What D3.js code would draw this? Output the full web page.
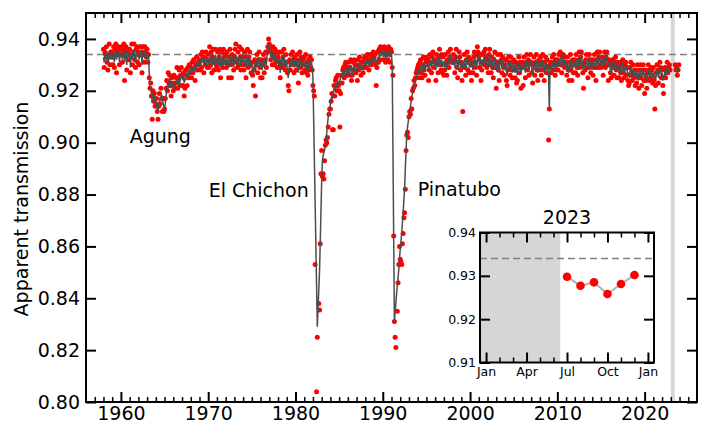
<!DOCTYPE html>
<html><head><meta charset="utf-8">
<script src="https://cdn.jsdelivr.net/npm/d3@7"></script>
<style>body{margin:0;background:#fff}svg{display:block;font-family:"DejaVu Sans",sans-serif}</style>
</head><body><svg id="c" width="708" height="424"></svg>
<script>
// ---- data ----
const firstYear = 1958; // monthly series, first value = Jan 1958
const monthlyTransmission = [
.936,.929,.935,.934,.937,.931,.928,.934,.938,.930,.935,.933,
.935,.930,.937,.929,.936,.938,.927,.935,.934,.937,.930,.936,
.934,.937,.931,.935,.938,.924,.936,.937,.928,.935,.932,.936,
.936,.927,.934,.938,.930,.935,.938,.932,.929,.936,.937,.931,
.935,.930,.937,.934,.937,.927,.935,.937,.931,.937,.935,.933,
.936,.931,.934,.925,.921,.923,.918,.909,.920,.916,.919,.914,
.915,.917,.912,.909,.914,.919,.915,.921,.917,.912,.917,.912,
.913,.917,.921,.924,.920,.927,.923,.926,.922,.918,.925,.923,
.920,.926,.921,.923,.925,.929,.921,.925,.928,.922,.926,.929,
.926,.922,.927,.918,.921,.928,.926,.922,.929,.925,.930,.927,
.929,.925,.931,.927,.932,.929,.924,.930,.933,.928,.931,.930,
.932,.928,.934,.929,.935,.932,.927,.933,.930,.935,.932,.929,
.934,.929,.937,.930,.935,.927,.933,.936,.928,.931,.936,.930,
.929,.935,.928,.933,.936,.925,.930,.935,.929,.936,.933,.931,
.934,.929,.935,.930,.925,.933,.936,.930,.925,.934,.932,.928,
.933,.936,.938,.931,.929,.935,.930,.937,.933,.928,.936,.930,
.933,.928,.935,.930,.925,.933,.936,.929,.933,.935,.930,.927,
.931,.926,.922,.928,.932,.918,.931,.934,.927,.932,.935,.929,
.925,.932,.925,.931,.934,.927,.932,.935,.929,.935,.937,.940,
.938,.936,.932,.935,.930,.937,.934,.930,.936,.931,.935,.929,
.933,.929,.935,.925,.930,.935,.929,.933,.936,.930,.928,.934,
.931,.927,.922,.920,.932,.928,.934,.931,.935,.930,.927,.933,
.932,.928,.934,.930,.923,.932,.935,.929,.933,.927,.932,.930,
.933,.928,.934,.927,.931,.926,.932,.928,.933,.929,.932,.928,
.922,.920,.918,.853,null,.804,.825,null,.838,.8355,.861,.888,
.897,.887,.888,.886,.893,.899,.901,.900,.902,.906,.911,.913,
.913,.916,.919,.905,.905,.922,.918,.924,.925,.920,.926,.922,
.920,.906,.919,.926,.923,.928,.929,.925,.930,.931,.926,.928,
.929,.931,.926,.929,.932,.924,.926,.931,.928,.932,.930,.927,
.930,.924,.932,.928,.933,.930,.926,.931,.929,.927,.932,.933,
.929,.933,.929,.934,.932,.928,.932,.934,.930,.933,.931,.935,
.933,.934,.930,.922,.929,.935,.931,.936,.932,.937,.935,.936,
.936,.932,.937,.935,.931,.936,.935,.932,.937,.936,.931,.936,
.935,.929,.926,.864,.831,.825,.821,null,.835,.846,.853,.860,
.855,.854,.853,.861,.865,.871,.873,.882,.897,.903,.904,.902,
.910,.912,.911,.917,.913,.920,.921,.924,.922,.925,.927,.928,
.929,.930,.925,.931,.932,.927,.925,.930,.933,.928,.926,.932,
.931,.933,.932,.924,.928,.934,.931,.927,.933,.935,.929,.931,
.932,.924,.934,.932,.927,.933,.936,.930,.928,.934,.927,.933,
.926,.928,.934,.931,.926,.932,.935,.929,.933,.936,.931,.932,
.931,.934,.932,.927,.933,.936,.929,.925,.931,.935,.933,.928,
.931,.924,.912,.930,.934,.929,.926,.932,.935,.928,.933,.927,
.932,.927,.924,.931,.927,.933,.935,.929,.934,.926,.937,.935,
.933,.929,.934,.924,.928,.934,.931,.935,.930,.936,.933,.929,
.932,.927,.934,.936,.930,.927,.933,.929,.925,.932,.935,.929,
.921,.931,.934,.928,.924,.931,.934,.932,.927,.933,.929,.926,
.930,.932,.924,.922,.928,.933,.931,.926,.933,.928,.925,.931,
.932,.928,.925,.931,.923,.924,.930,.933,.927,.931,.921,.930,
.931,.922,.933,.930,.925,.931,.934,.928,.932,.926,.931,.934,
.931,.927,.923,.930,.933,.926,.931,.934,.928,.924,.931,.932,
.928,.933,.926,.931,.934,.928,.924,.931,.933,.927,.932,.929,
.901,.913,.930,.931,.927,.933,.928,.934,.931,.926,.932,.928,
.932,.928,.934,.931,.935,.930,.927,.933,.934,.930,.929,.933,
.931,.926,.933,.928,.924,.931,.934,.928,.924,.932,.927,.931,
.932,.927,.934,.929,.926,.932,.935,.929,.933,.935,.930,.927,
.921,.931,.928,.932,.934,.929,.925,.932,.934,.929,.927,.932,
.931,.926,.932,.934,.929,.924,.932,.935,.929,.933,.935,.930,
.929,.933,.930,.926,.932,.935,.929,.933,.935,.930,.924,.932,
.931,.927,.925,.930,.932,.929,.926,.931,.933,.928,.925,.931,
.930,.925,.931,.927,.924,.930,.932,.927,.925,.930,.931,.926,
.929,.924,.922,.923,.929,.931,.926,.924,.930,.925,.928,.922,
.928,.923,.930,.925,.921,.928,.930,.925,.922,.928,.930,.924,
.919,.928,.924,.921,.927,.930,.928,.924,.925,.929,.928,.923,
.929,.924,.913,.922,.927,.930,.928,.923,.928,.931,.929,.925,
.928,.922,.919,.925,.929,.925,.928,.931,.927,.929,.930,.928,
null,null,null,null,null,null,.930,.928,.929,.926,.928,.930
];
const smoothedTransmission = [
.933,.931,.934,.932,.935,.933,.930,.933,.935,.932,.934,.933,
.934,.932,.935,.931,.934,.936,.932,.934,.933,.935,.931,.934,
.933,.935,.932,.934,.936,.931,.934,.935,.930,.934,.933,.935,
.934,.929,.933,.935,.932,.934,.936,.933,.931,.934,.935,.933,
.934,.932,.935,.933,.936,.930,.934,.935,.933,.936,.934,.932,
.934,.933,.934,.926,.921,.921,.919,.916,.919,.917,.918,.915,
.916,.915,.913,.912,.914,.916,.917,.917,.9185,.917,.915,.914,
.9133,.915,.918,.920,.922,.923,.921,.9249,.923,.921,.923,.922,
.923,.921,.922,.9217,.924,.923,.925,.922,.924,.923,.925,.926,
.9255,.924,.926,.923,.925,.924,.927,.925,.926,.928,.926,.927,
.928,.927,.928,.929,.927,.929,.930,.928,.930,.931,.929,.9313,
.930,.932,.930,.9332,.931,.932,.930,.933,.931,.932,.930,.933,
.932,.930,.933,.931,.934,.929,.932,.933,.930,.932,.934,.931,
.931,.933,.930,.932,.934,.929,.931,.933,.930,.934,.932,.930,
.932,.930,.933,.931,.929,.932,.934,.931,.930,.933,.931,.929,
.931,.933,.934,.932,.930,.933,.931,.934,.932,.930,.933,.931,
.932,.930,.933,.931,.929,.932,.934,.930,.932,.933,.931,.929,
.930,.928,.926,.929,.931,.928,.930,.932,.929,.931,.933,.930,
.929,.931,.928,.930,.932,.929,.931,.933,.930,.934,.936,.938,
.937,.935,.933,.934,.932,.935,.933,.931,.934,.932,.933,.931,
.932,.930,.933,.927,.931,.933,.930,.932,.934,.931,.929,.932,
.930,.928,.925,.928,.931,.929,.932,.930,.933,.931,.929,.932,
.931,.929,.932,.930,.927,.931,.933,.930,.932,.929,.931,.930,
.931,.929,.932,.928,.930,.927,.931,.929,.932,.930,.931,.929,
.925,.909,.893,.877,.861,.845,.829,.836,.843,.850,.861,.873,
.885,.893,.895,.896,.897,.899,.901,.904,.907,.910,.911,.913,
.915,.917,.918,.917,.919,.921,.920,.922,.923,.921,.924,.923,
.922,.924,.925,.926,.925,.927,.928,.926,.928,.929,.927,.926,
.927,.929,.926,.928,.930,.928,.926,.929,.928,.930,.928,.927,
.929,.928,.930,.929,.931,.929,.928,.930,.929,.928,.930,.931,
.930,.931,.930,.932,.931,.930,.931,.932,.930,.932,.931,.933,
.932,.933,.931,.932,.930,.933,.932,.934,.933,.935,.934,.935,
.934,.933,.935,.934,.932,.935,.934,.933,.935,.934,.933,.935,
.934,.929,.897,.864,.831,.835,.838,.842,.845,.848,.851,.855,
.859,.862,.865,.869,.873,.878,.882,.890,.897,.903,.906,.908,
.910,.912,.914,.916,.918,.919,.920,.922,.923,.924,.925,.926,
.927,.928,.926,.929,.930,.928,.927,.929,.931,.929,.928,.930,
.929,.931,.930,.928,.930,.932,.930,.929,.931,.933,.931,.930,
.930,.928,.932,.931,.929,.932,.934,.931,.930,.932,.929,.931,
.931,.929,.932,.930,.928,.931,.933,.930,.932,.934,.932,.931,
.930,.932,.931,.929,.932,.934,.931,.928,.930,.933,.931,.929,
.930,.928,.931,.929,.932,.930,.928,.931,.933,.930,.932,.929,
.931,.929,.932,.930,.928,.931,.933,.930,.932,.929,.931,.934,
.932,.930,.933,.931,.929,.932,.930,.933,.931,.934,.932,.930,
.931,.929,.932,.934,.931,.929,.932,.930,.928,.931,.933,.930,
.928,.930,.932,.929,.927,.930,.932,.931,.929,.932,.930,.928,
.929,.931,.928,.926,.929,.931,.930,.928,.931,.929,.927,.930,
.931,.929,.927,.930,.928,.926,.929,.931,.928,.930,.927,.929,
.930,.928,.931,.929,.927,.930,.932,.929,.931,.928,.930,.932,
.930,.928,.926,.929,.931,.928,.930,.932,.929,.927,.930,.931,
.929,.931,.928,.930,.932,.929,.927,.930,.931,.928,.930,.930,
.925,.913,.929,.930,.928,.931,.929,.932,.930,.928,.931,.929,
.931,.929,.932,.930,.933,.931,.929,.932,.934,.931,.930,.932,
.930,.928,.931,.929,.927,.930,.932,.929,.928,.931,.929,.930,
.931,.929,.932,.930,.928,.931,.933,.930,.932,.934,.931,.929,
.928,.930,.929,.931,.932,.930,.928,.931,.933,.930,.929,.931,
.930,.928,.931,.932,.930,.929,.931,.933,.930,.932,.934,.931,
.930,.932,.931,.929,.931,.933,.930,.932,.934,.931,.929,.931,
.930,.928,.926,.929,.931,.930,.928,.930,.932,.929,.928,.930,
.929,.927,.930,.928,.926,.929,.931,.928,.927,.929,.930,.928,
.928,.926,.927,.925,.928,.929,.927,.925,.928,.926,.927,.926,
.927,.925,.928,.926,.924,.927,.928,.926,.925,.927,.928,.926,
.925,.927,.925,.924,.926,.928,.927,.925,.926,.928,.927,.925,
.927,.925,.926,.924,.926,.928,.927,.925,.927,.929,.927,.926,
.927,.924,.925,.926,.928,.926,.927,.929,.927,.928,.929,.928,
null,null,null,null,null,null,.929,.928,.928,.927,.928,.929
];
const referenceLevel = 0.934;
const noDataPeriod = [2023.0, 2023.45];
const yTickValues = [0.80, 0.82, 0.84, 0.86, 0.88, 0.90, 0.92, 0.94];
const xTickValues = [1960, 1970, 1980, 1990, 2000, 2010, 2020];
const eruptions = [
  {name: "Agung", year: 1961.0, value: 0.900},
  {name: "El Chichon", year: 1970.05, value: 0.8792},
  {name: "Pinatubo", year: 1994.0, value: 0.8794}
];
const insetTitle = "2023";
const insetMonths = [6, 7, 8, 9, 10, 11];           // Jul..Dec (0 = Jan)
const insetValues = [0.9298, 0.9277, 0.9285, 0.9258, 0.9281, 0.9302];
const insetMonthTicks = [0, 3, 6, 9, 12];
const insetMonthLabels = ["Jan", "Apr", "Jul", "Oct", "Jan"];
const insetYTicks = [0.91, 0.92, 0.93, 0.94];
const insetNoDataEnd = 5.5;

// ---- drawing ----
const svg = d3.select("#c");
const L = 86, R = 697, T = 13, B = 402;
const x = d3.scaleLinear().domain([1956, 2026]).range([L, R]);
const y = d3.scaleLinear().domain([0.80, 0.95]).range([B, T]);
const FS = "19px";

const pts = monthlyTransmission.map((v, i) => ({t: firstYear + i / 12, v}));
const sm = smoothedTransmission.map((v, i) => ({t: firstYear + i / 12, v}));

svg.append("rect").attr("x", x(noDataPeriod[0])).attr("y", T)
  .attr("width", x(noDataPeriod[1]) - x(noDataPeriod[0])).attr("height", B - T)
  .attr("fill", "#d6d6d6");

svg.append("line").attr("x1", L).attr("x2", R).attr("y1", y(referenceLevel)).attr("y2", y(referenceLevel))
  .attr("stroke", "#808080").attr("stroke-width", 1.6).attr("stroke-dasharray", "7,4");

svg.append("g").selectAll("circle").data(pts.filter(d => d.v != null)).join("circle")
  .attr("cx", d => x(d.t)).attr("cy", d => y(d.v)).attr("r", 2.5).attr("fill", "#ff0000");

svg.append("path").datum(sm)
  .attr("d", d3.line().defined(d => d.v != null).x(d => x(d.t)).y(d => y(d.v)))
  .attr("fill", "none").attr("stroke", "#4d4d4d").attr("stroke-width", 1.5);

function styleAxis(g, w, fs) {
  g.select(".domain").remove();
  g.selectAll(".tick line").attr("stroke", "#000").attr("stroke-width", w);
  g.selectAll("text").attr("fill", "#000").style("font-size", fs).style("font-family", '"DejaVu Sans",sans-serif');
}
const minorYears = d3.range(1957, 2026).filter(v => v % 10 !== 0);

svg.append("g").attr("transform", `translate(0,${B})`)
  .call(d3.axisBottom(x).tickValues(minorYears).tickSize(-5).tickFormat(""))
  .call(g => styleAxis(g, 1.5, FS));
svg.append("g").attr("transform", `translate(0,${B})`)
  .call(d3.axisBottom(x).tickValues(xTickValues).tickSize(-10).tickPadding(5).tickFormat(d3.format("d")))
  .call(g => styleAxis(g, 2, FS));
svg.append("g").attr("transform", `translate(0,${T})`)
  .call(d3.axisTop(x).tickValues(minorYears).tickSize(-5).tickFormat(""))
  .call(g => styleAxis(g, 1.5, FS));
svg.append("g").attr("transform", `translate(0,${T})`)
  .call(d3.axisTop(x).tickValues(xTickValues).tickSize(-10).tickFormat(""))
  .call(g => styleAxis(g, 2, FS));
svg.append("g").attr("transform", `translate(${L},0)`)
  .call(d3.axisLeft(y).tickValues(yTickValues).tickSize(-10).tickPadding(6).tickFormat(d3.format(".2f")))
  .call(g => styleAxis(g, 2, FS));
svg.append("g").attr("transform", `translate(${R},0)`)
  .call(d3.axisRight(y).tickValues(yTickValues).tickSize(-10).tickFormat(""))
  .call(g => styleAxis(g, 2, FS));

svg.append("rect").attr("x", L).attr("y", T).attr("width", R - L).attr("height", B - T)
  .attr("fill", "none").attr("stroke", "#000").attr("stroke-width", 2);

svg.append("text").attr("transform", `translate(28,209) rotate(-90)`)
  .attr("text-anchor", "middle").style("font-size", FS).text("Apparent transmission");

svg.append("g").selectAll("text").data(eruptions).join("text")
  .attr("x", d => x(d.year)).attr("y", d => y(d.value)).style("font-size", FS).text(d => d.name);

// ---- inset ----
const iL = 480, iR = 654, iT = 232.5, iB = 362.5;
const ix = d3.scaleLinear().domain([-0.45, 12.45]).range([iL, iR]);
const iy = d3.scaleLinear().domain([0.91, 0.94]).range([iB, iT]);
const inset = svg.append("g");
inset.append("rect").attr("x", iL).attr("y", iT).attr("width", iR - iL).attr("height", iB - iT).attr("fill", "#fff");
inset.append("rect").attr("x", iL).attr("y", iT).attr("width", ix(insetNoDataEnd) - iL).attr("height", iB - iT).attr("fill", "#d6d6d6");
inset.append("line").attr("x1", iL).attr("x2", iR).attr("y1", iy(referenceLevel)).attr("y2", iy(referenceLevel))
  .attr("stroke", "#808080").attr("stroke-width", 1.6).attr("stroke-dasharray", "7,4");
const ip = insetMonths.map((m, i) => ({m, v: insetValues[i]}));
inset.append("path").datum(ip).attr("d", d3.line().x(d => ix(d.m)).y(d => iy(d.v)))
  .attr("fill", "none").attr("stroke", "#b0b0b0").attr("stroke-width", 2);
inset.selectAll("circle").data(ip).join("circle")
  .attr("cx", d => ix(d.m)).attr("cy", d => iy(d.v)).attr("r", 4.3).attr("fill", "#ff0000");

const IFS = "12.5px";
const minorMonths = d3.range(0, 13).filter(m => m % 3 !== 0);
inset.append("g").attr("transform", `translate(0,${iB})`)
  .call(d3.axisBottom(ix).tickValues(minorMonths).tickSize(-5).tickFormat(""))
  .call(g => styleAxis(g, 1.5, IFS));
inset.append("g").attr("transform", `translate(0,${iB})`)
  .call(d3.axisBottom(ix).tickValues(insetMonthTicks).tickSize(-10).tickPadding(5).tickFormat((d, i) => insetMonthLabels[i]))
  .call(g => styleAxis(g, 2, IFS));
inset.append("g").attr("transform", `translate(0,${iT})`)
  .call(d3.axisTop(ix).tickValues(minorMonths).tickSize(-5).tickFormat(""))
  .call(g => styleAxis(g, 1.5, IFS));
inset.append("g").attr("transform", `translate(0,${iT})`)
  .call(d3.axisTop(ix).tickValues(insetMonthTicks).tickSize(-10).tickFormat(""))
  .call(g => styleAxis(g, 2, IFS));
inset.append("g").attr("transform", `translate(${iL},0)`)
  .call(d3.axisLeft(iy).tickValues(insetYTicks).tickSize(-10).tickPadding(4).tickFormat(d3.format(".2f")))
  .call(g => styleAxis(g, 2, IFS));
inset.append("g").attr("transform", `translate(${iR},0)`)
  .call(d3.axisRight(iy).tickValues(insetYTicks).tickSize(-10).tickFormat(""))
  .call(g => styleAxis(g, 2, IFS));
inset.append("rect").attr("x", iL).attr("y", iT).attr("width", iR - iL).attr("height", iB - iT)
  .attr("fill", "none").attr("stroke", "#000").attr("stroke-width", 2);
inset.append("text").attr("x", (iL + iR) / 2).attr("y", 224).attr("text-anchor", "middle")
  .style("font-size", FS).text(insetTitle);
</script></body></html>
